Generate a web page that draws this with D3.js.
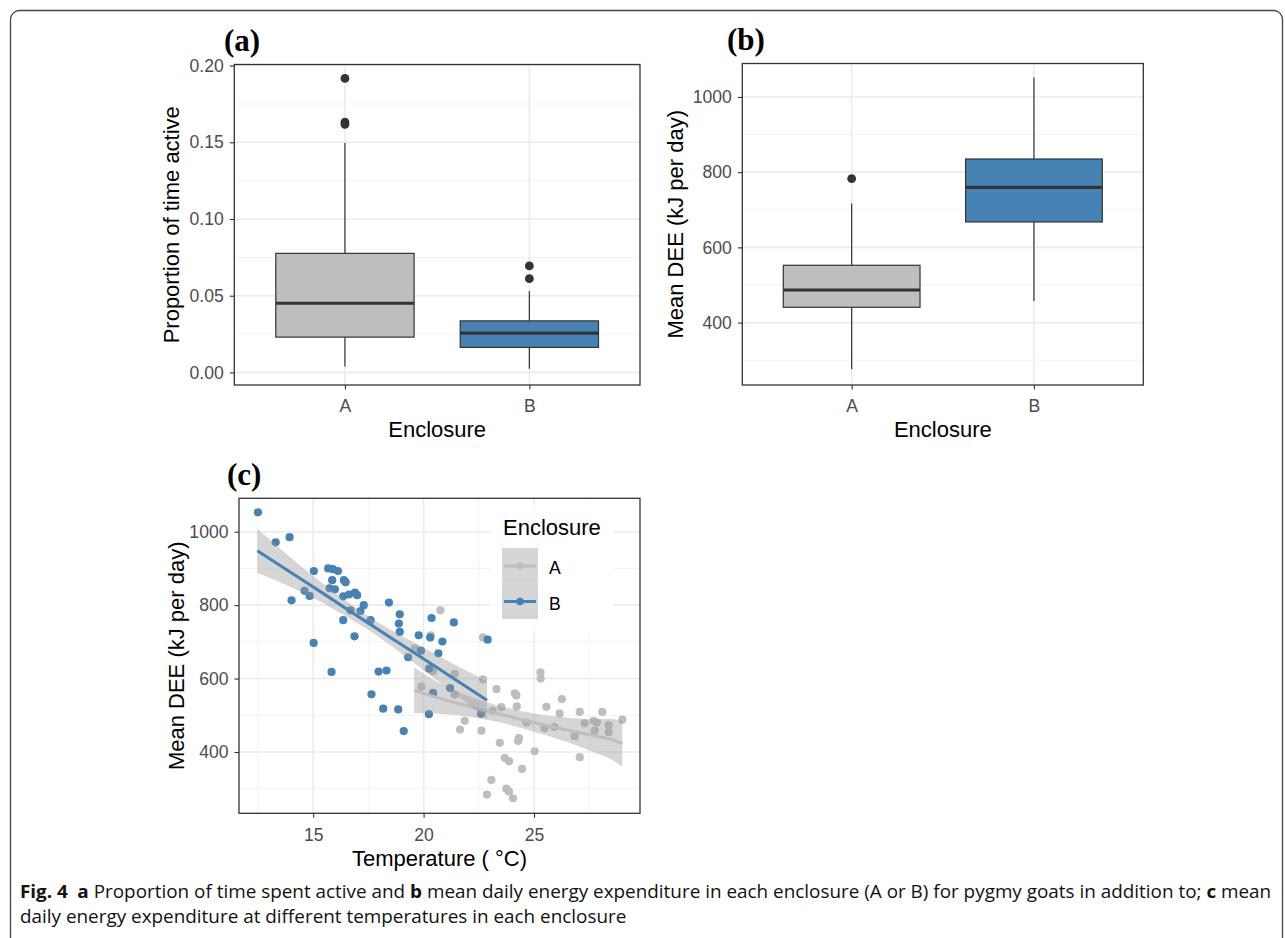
<!DOCTYPE html>
<html>
<head>
<meta charset="utf-8">
<script src="https://cdn.jsdelivr.net/npm/d3@7"></script>
<style>
  body { margin: 0; background: #fff; }
  svg { display: block; }
</style>
</head>
<body>
<svg id="fig" width="1285" height="938"></svg>
<script>
// ---- data ----
const enclosures = ['A', 'B'];
const colA = '#BEBEBE';
const colB = '#4682B4';

// (a) proportion of time active, box stats per enclosure
const activeLow = [0.0039, 0.0024];
const activeQ1 = [0.023, 0.0163];
const activeMedian = [0.0451, 0.0256];
const activeQ3 = [0.0776, 0.0336];
const activeHigh = [0.1495, 0.0531];
const activeOutliers = [[0.1916, 0.1632, 0.1617], [0.0694, 0.0611]];
const activeTicks = [0, 0.05, 0.1, 0.15, 0.2];
const activeMinor = [0.025, 0.075, 0.125, 0.175];

// (b) mean DEE, box stats per enclosure
const deeLow = [275.8, 457.4];
const deeQ1 = [440.7, 667.6];
const deeMedian = [486.7, 759.8];
const deeQ3 = [552.4, 835];
const deeHigh = [716.5, 1051.6];
const deeOutliers = [[783], []];
const deeTicks = [400, 600, 800, 1000];
const deeMinor = [300, 500, 700, 900];

// (c) DEE vs temperature
const tempA = [20.76, 20.33, 19.6, 20.43, 21.41, 22.69, 22.69, 19.9, 23.3, 21.4, 21.86, 21.65,
  22.62, 23.52, 23.12, 23.45, 23.67, 23.87, 23.07, 22.87, 23.75, 23.87, 24.05, 24.13, 24.2,
  24.22, 24.32, 24.28, 24.46, 24.66, 25.03, 25.29, 25.3, 25.56, 25.48, 25.93, 26.16, 26.26,
  26.84, 27.07, 27.07, 27.29, 27.7, 27.85, 27.75, 28.09, 28.38, 28.38, 29.0];
const deeA = [786, 718, 682, 619, 613, 712, 598, 578, 571, 556, 485, 461,
  458, 522, 512, 425, 384, 375, 324, 284, 300, 292, 274, 560, 554,
  524, 438, 430, 354, 480, 402, 617, 600, 523, 465, 468, 505, 544,
  443, 509, 386, 478, 485, 480, 458, 509, 473, 454, 488];
const tempB = [12.5, 13.3, 13.93, 14.02, 14.61, 14.84, 15.03, 15.02, 15.68, 15.89, 16.12, 15.86,
  16.39, 16.47, 15.74, 15.98, 16.36, 16.62, 16.89, 16.99, 17.29, 17.14, 16.69, 16.36, 16.87,
  17.6, 18.43, 18.92, 18.88, 18.92, 19.78, 20.36, 20.3, 19.88, 19.3, 15.83, 17.64, 17.96,
  18.32, 18.17, 18.85, 19.1, 20.24, 20.25, 20.43, 20.67, 20.85, 21.37, 21.2, 22.9, 22.6];
const deeB = [1053, 971, 985, 813, 839, 825, 893, 697, 900, 898, 893, 868,
  868, 862, 846, 843, 824, 829, 834, 827, 800, 784, 786, 759, 715,
  759, 807, 775, 750, 727, 718, 765, 712, 676, 658, 618, 557, 619,
  622, 518, 516, 457, 503, 627, 561, 669, 701, 753, 574, 706, 504];
const tempTicks = [15, 20, 25];
const tempMinor = [12.5, 17.5, 22.5, 27.5];

// smoothed fits with confidence band
const fitTempA = [19.57, 20.5, 21.5, 22.5, 23.5, 24.5, 25.5, 26.5, 27.5, 28.5, 29.0];
const fitA = [568, 550, 533, 517, 502, 487, 473, 460, 447, 435, 423];
const loA = [506, 505, 501, 492, 480, 464, 446, 427, 405, 380, 360];
const hiA = [630, 595, 565, 542, 524, 510, 500, 493, 489, 490, 486];
const fitTempB = [12.47, 13.5, 14.5, 15.5, 16.5, 17.5, 18.5, 19.5, 20.5, 21.5, 22.87];
const fitB = [948, 908, 869, 830, 790, 751, 712, 673, 634, 595, 541];
const loB = [888, 862, 835, 804, 769, 733, 691, 646, 600, 555, 489];
const hiB = [1008, 954, 903, 856, 811, 769, 733, 700, 668, 635, 593];

// ---- drawing ----
const svg = d3.select('#fig');
const FONT = "'Liberation Sans', Arial, sans-serif";

// outer figure frame
svg.append('rect')
  .attr('x', 10.5).attr('y', 10.5)
  .attr('width', 1272).attr('height', 940)
  .attr('rx', 9)
  .attr('fill', 'none')
  .attr('stroke', '#444')
  .attr('stroke-width', 1.3);

function panelFrame(p, x, y, xMajor, xMinor, yMajor, yMinor) {
  const g = svg.append('g');
  g.append('rect')
    .attr('x', p.x0).attr('y', p.y0)
    .attr('width', p.x1 - p.x0).attr('height', p.y1 - p.y0)
    .attr('fill', '#fff');
  g.selectAll('line.ymin').data(yMinor).join('line')
    .attr('x1', p.x0).attr('x2', p.x1)
    .attr('y1', (d) => y(d)).attr('y2', (d) => y(d))
    .attr('stroke', '#F2F2F2').attr('stroke-width', 0.9);
  g.selectAll('line.xmin').data(xMinor).join('line')
    .attr('y1', p.y0).attr('y2', p.y1)
    .attr('x1', (d) => x(d)).attr('x2', (d) => x(d))
    .attr('stroke', '#F2F2F2').attr('stroke-width', 0.9);
  g.selectAll('line.ymaj').data(yMajor).join('line')
    .attr('x1', p.x0).attr('x2', p.x1)
    .attr('y1', (d) => y(d)).attr('y2', (d) => y(d))
    .attr('stroke', '#EBEBEB').attr('stroke-width', 1.6);
  g.selectAll('line.xmaj').data(xMajor).join('line')
    .attr('y1', p.y0).attr('y2', p.y1)
    .attr('x1', (d) => x(d)).attr('x2', (d) => x(d))
    .attr('stroke', '#EBEBEB').attr('stroke-width', 1.6);
  return g;
}

function panelAxes(p, x, y, xMajor, yMajor, xFmt, yFmt) {
  const ax = svg.append('g')
    .attr('transform', 'translate(0,' + p.y1 + ')')
    .call(d3.axisBottom(x).tickValues(xMajor).tickSize(4.5).tickPadding(6).tickFormat(xFmt));
  const ay = svg.append('g')
    .attr('transform', 'translate(' + p.x0 + ',0)')
    .call(d3.axisLeft(y).tickValues(yMajor).tickSize(4.5).tickPadding(6).tickFormat(yFmt));
  [ax, ay].forEach((a) => {
    a.select('.domain').remove();
    a.selectAll('line').attr('stroke', '#333').attr('stroke-width', 1.1);
    a.selectAll('text')
      .attr('fill', '#4D4D4D')
      .style('font-family', FONT)
      .style('font-size', '17.6px');
  });
  ax.selectAll('text').attr('dy', '0.95em');
  svg.append('rect')
    .attr('x', p.x0).attr('y', p.y0)
    .attr('width', p.x1 - p.x0).attr('height', p.y1 - p.y0)
    .attr('fill', 'none')
    .attr('stroke', '#333').attr('stroke-width', 1.3);
}

function titles(p, xTitle, yTitle, xBase, yBase) {
  svg.append('text')
    .attr('x', (p.x0 + p.x1) / 2).attr('y', xBase)
    .attr('text-anchor', 'middle')
    .style('font-family', FONT).style('font-size', '22px')
    .text(xTitle);
  svg.append('text')
    .attr('transform', 'translate(' + yBase + ',' + (p.y0 + p.y1) / 2 + ') rotate(-90)')
    .attr('text-anchor', 'middle')
    .style('font-family', FONT).style('font-size', '22px')
    .text(yTitle);
}

function panelLabel(txt, x, y) {
  svg.append('text')
    .attr('x', x).attr('y', y)
    .style('font-family', "'Liberation Serif', 'Times New Roman', serif")
    .style('font-weight', 'bold')
    .style('font-size', '31px')
    .text(txt);
}

function boxplot(p, yDomain, low, q1, med, q3, high, outliers, yMajor, yMinor, fmt) {
  const x = d3.scalePoint().domain(enclosures).range([p.x0, p.x1]).padding(0.6);
  const y = d3.scaleLinear().domain(yDomain).range([p.y1, p.y0]);
  const half = x.step() * 0.375;
  panelFrame(p, x, y, enclosures, [], yMajor, yMinor);
  const rows = enclosures.map((e, i) => ({
    e: e, low: low[i], q1: q1[i], med: med[i], q3: q3[i], high: high[i], out: outliers[i],
    fill: i === 0 ? colA : colB
  }));
  const g = svg.append('g');
  // whiskers
  g.selectAll('line.wlo').data(rows).join('line')
    .attr('x1', (d) => x(d.e)).attr('x2', (d) => x(d.e))
    .attr('y1', (d) => y(d.low)).attr('y2', (d) => y(d.q1))
    .attr('stroke', '#333').attr('stroke-width', 1.2);
  g.selectAll('line.whi').data(rows).join('line')
    .attr('x1', (d) => x(d.e)).attr('x2', (d) => x(d.e))
    .attr('y1', (d) => y(d.q3)).attr('y2', (d) => y(d.high))
    .attr('stroke', '#333').attr('stroke-width', 1.2);
  g.selectAll('rect.box').data(rows).join('rect')
    .attr('x', (d) => x(d.e) - half)
    .attr('width', half * 2)
    .attr('y', (d) => y(d.q3))
    .attr('height', (d) => y(d.q1) - y(d.q3))
    .attr('fill', (d) => d.fill)
    .attr('stroke', '#333').attr('stroke-width', 1.2);
  g.selectAll('line.med').data(rows).join('line')
    .attr('x1', (d) => x(d.e) - half).attr('x2', (d) => x(d.e) + half)
    .attr('y1', (d) => y(d.med)).attr('y2', (d) => y(d.med))
    .attr('stroke', '#333').attr('stroke-width', 3.2);
  rows.forEach((r) => {
    g.selectAll(null).data(r.out).join('circle')
      .attr('cx', x(r.e)).attr('cy', (d) => y(d))
      .attr('r', 4.4).attr('fill', '#333');
  });
  panelAxes(p, x, y, enclosures, yMajor, (d) => d, fmt);
}

// ---- panel (a) ----
const pa = { x0: 234.3, x1: 640, y0: 64.5, y1: 385 };
boxplot(pa, [-0.0082, 0.2007], activeLow, activeQ1, activeMedian, activeQ3, activeHigh,
  activeOutliers, activeTicks, activeMinor, d3.format('.2f'));
titles(pa, 'Enclosure', 'Proportion of time active', 437, 178.5);
panelLabel('(a)', 224, 51);

// ---- panel (b) ----
const pb = { x0: 742.3, x1: 1143.3, y0: 63.5, y1: 385 };
boxplot(pb, [234, 1089], deeLow, deeQ1, deeMedian, deeQ3, deeHigh,
  deeOutliers, deeTicks, deeMinor, d3.format('d'));
titles(pb, 'Enclosure', 'Mean DEE (kJ per day)', 437, 683);
panelLabel('(b)', 727, 50);

// ---- panel (c) ----
const pc = { x0: 239, x1: 640, y0: 498.3, y1: 813.3 };
const xc = d3.scaleLinear().domain([11.64, 29.8]).range([pc.x0, pc.x1]);
const yc = d3.scaleLinear().domain([233, 1091]).range([pc.y1, pc.y0]);
panelFrame(pc, xc, yc, tempTicks, tempMinor, deeTicks, deeMinor);

const gc = svg.append('g');
gc.selectAll('circle.a').data(tempA).join('circle')
  .attr('cx', (d) => xc(d)).attr('cy', (d, i) => yc(deeA[i]))
  .attr('r', 4.1).attr('fill', colA);
gc.selectAll('circle.b').data(tempB).join('circle')
  .attr('cx', (d) => xc(d)).attr('cy', (d, i) => yc(deeB[i]))
  .attr('r', 4.1).attr('fill', colB);

const smooth = [
  { t: fitTempA, fit: fitA, lo: loA, hi: hiA, col: colA },
  { t: fitTempB, fit: fitB, lo: loB, hi: hiB, col: colB }
];
smooth.forEach((s) => {
  const idx = d3.range(s.t.length);
  gc.append('path')
    .datum(idx)
    .attr('d', d3.area()
      .x((i) => xc(s.t[i]))
      .y0((i) => yc(s.lo[i]))
      .y1((i) => yc(s.hi[i])))
    .attr('fill', '#999999').attr('fill-opacity', 0.4);
  gc.append('path')
    .datum(idx)
    .attr('d', d3.line().x((i) => xc(s.t[i])).y((i) => yc(s.fit[i])))
    .attr('fill', 'none').attr('stroke', s.col).attr('stroke-width', 3);
});

// legend
const lg = svg.append('g');
lg.append('rect').attr('x', 490).attr('y', 505).attr('width', 123).attr('height', 126).attr('fill', '#fff');
lg.append('text').attr('x', 503).attr('y', 535)
  .style('font-family', FONT).style('font-size', '22px').text('Enclosure');
enclosures.forEach((e, i) => {
  const ky = 548 + i * 35.5;
  lg.append('rect').attr('x', 502).attr('y', ky).attr('width', 36).attr('height', 35.5)
    .attr('fill', '#999999').attr('fill-opacity', 0.4);
  lg.append('line').attr('x1', 504).attr('x2', 536)
    .attr('y1', ky + 18).attr('y2', ky + 18)
    .attr('stroke', i === 0 ? colA : colB).attr('stroke-width', 3);
  lg.append('circle').attr('cx', 520).attr('cy', ky + 18).attr('r', 3.8)
    .attr('fill', i === 0 ? colA : colB);
  lg.append('text').attr('x', 549).attr('y', ky + 26)
    .style('font-family', FONT).style('font-size', '17.6px').text(e);
});

panelAxes(pc, xc, yc, tempTicks, deeTicks, d3.format('d'), d3.format('d'));
titles(pc, 'Temperature ( °C)', 'Mean DEE (kJ per day)', 866, 183.5);
panelLabel('(c)', 227, 484.5);

// ---- caption ----
const capFont = "'Open Sans', 'Noto Sans', sans-serif";
const cap1 = svg.append('text').attr('x', 20).attr('y', 898)
  .style('font-family', capFont).style('font-size', '18.5px').attr('fill', '#111');
cap1.append('tspan').style('font-weight', 'bold').text('Fig. 4');
cap1.append('tspan').text('\u2002');
cap1.append('tspan').style('font-weight', 'bold').text('a');
cap1.append('tspan').text(' Proportion of time spent active and ');
cap1.append('tspan').style('font-weight', 'bold').text('b');
cap1.append('tspan').text(' mean daily energy expenditure in each enclosure (A or B) for pygmy goats in addition to; ');
cap1.append('tspan').style('font-weight', 'bold').text('c');
cap1.append('tspan').text(' mean');
const cap2 = svg.append('text').attr('x', 20).attr('y', 923)
  .style('font-family', capFont).style('font-size', '18.5px').attr('fill', '#111')
  .text('daily energy expenditure at different temperatures in each enclosure');
const w1 = cap1.node().getComputedTextLength();
const sx = (1272 - 20) / w1;
cap1.attr('transform', 'translate(20,0) scale(' + sx + ',1) translate(-20,0)');
cap2.attr('transform', 'translate(20,0) scale(' + sx + ',1) translate(-20,0)');
</script>
</body>
</html>
